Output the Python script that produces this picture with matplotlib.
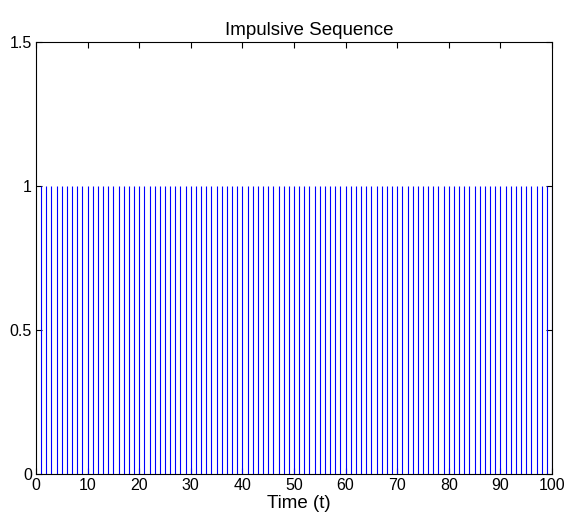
import numpy as np
import matplotlib
matplotlib.use("Agg")
from matplotlib import pyplot as plt

plt.rcParams['font.family'] = ['Liberation Sans', 'DejaVu Sans']

# impulse positions and heights
times = np.arange(1, 101)
amps = np.ones(len(times))
xticks = [0, 10, 20, 30, 40, 50, 60, 70, 80, 90, 100]
yticks = [0, 0.5, 1, 1.5]

fig = plt.figure(figsize=(5.67, 5.25), dpi=100)
ax = fig.add_axes([36/567, 1 - 474/525, (552-36)/567, (474-42)/525])
ax.vlines(times, 0, amps, color='blue', linewidth=0.8)
ax.set_xlim(0, 100)
ax.set_ylim(0, 1.5)
ax.set_xticks(xticks)
ax.set_yticks(yticks)
ax.set_yticklabels(['0', '0.5', '1', '1.5'])
ax.tick_params(direction='in', top=True, right=True, labelsize=11.5, length=4, pad=3)
for s in ax.spines.values():
    s.set_linewidth(0.8)
ax.set_title("Impulsive Sequence", fontsize=13.5, pad=5, x=0.5 + 15/516)
ax.set_xlabel("Time (t)", fontsize=13.5, labelpad=1)
ax.xaxis.label.set_x(0.5 + 5/516)

fig.savefig("out.png", dpi=100)
